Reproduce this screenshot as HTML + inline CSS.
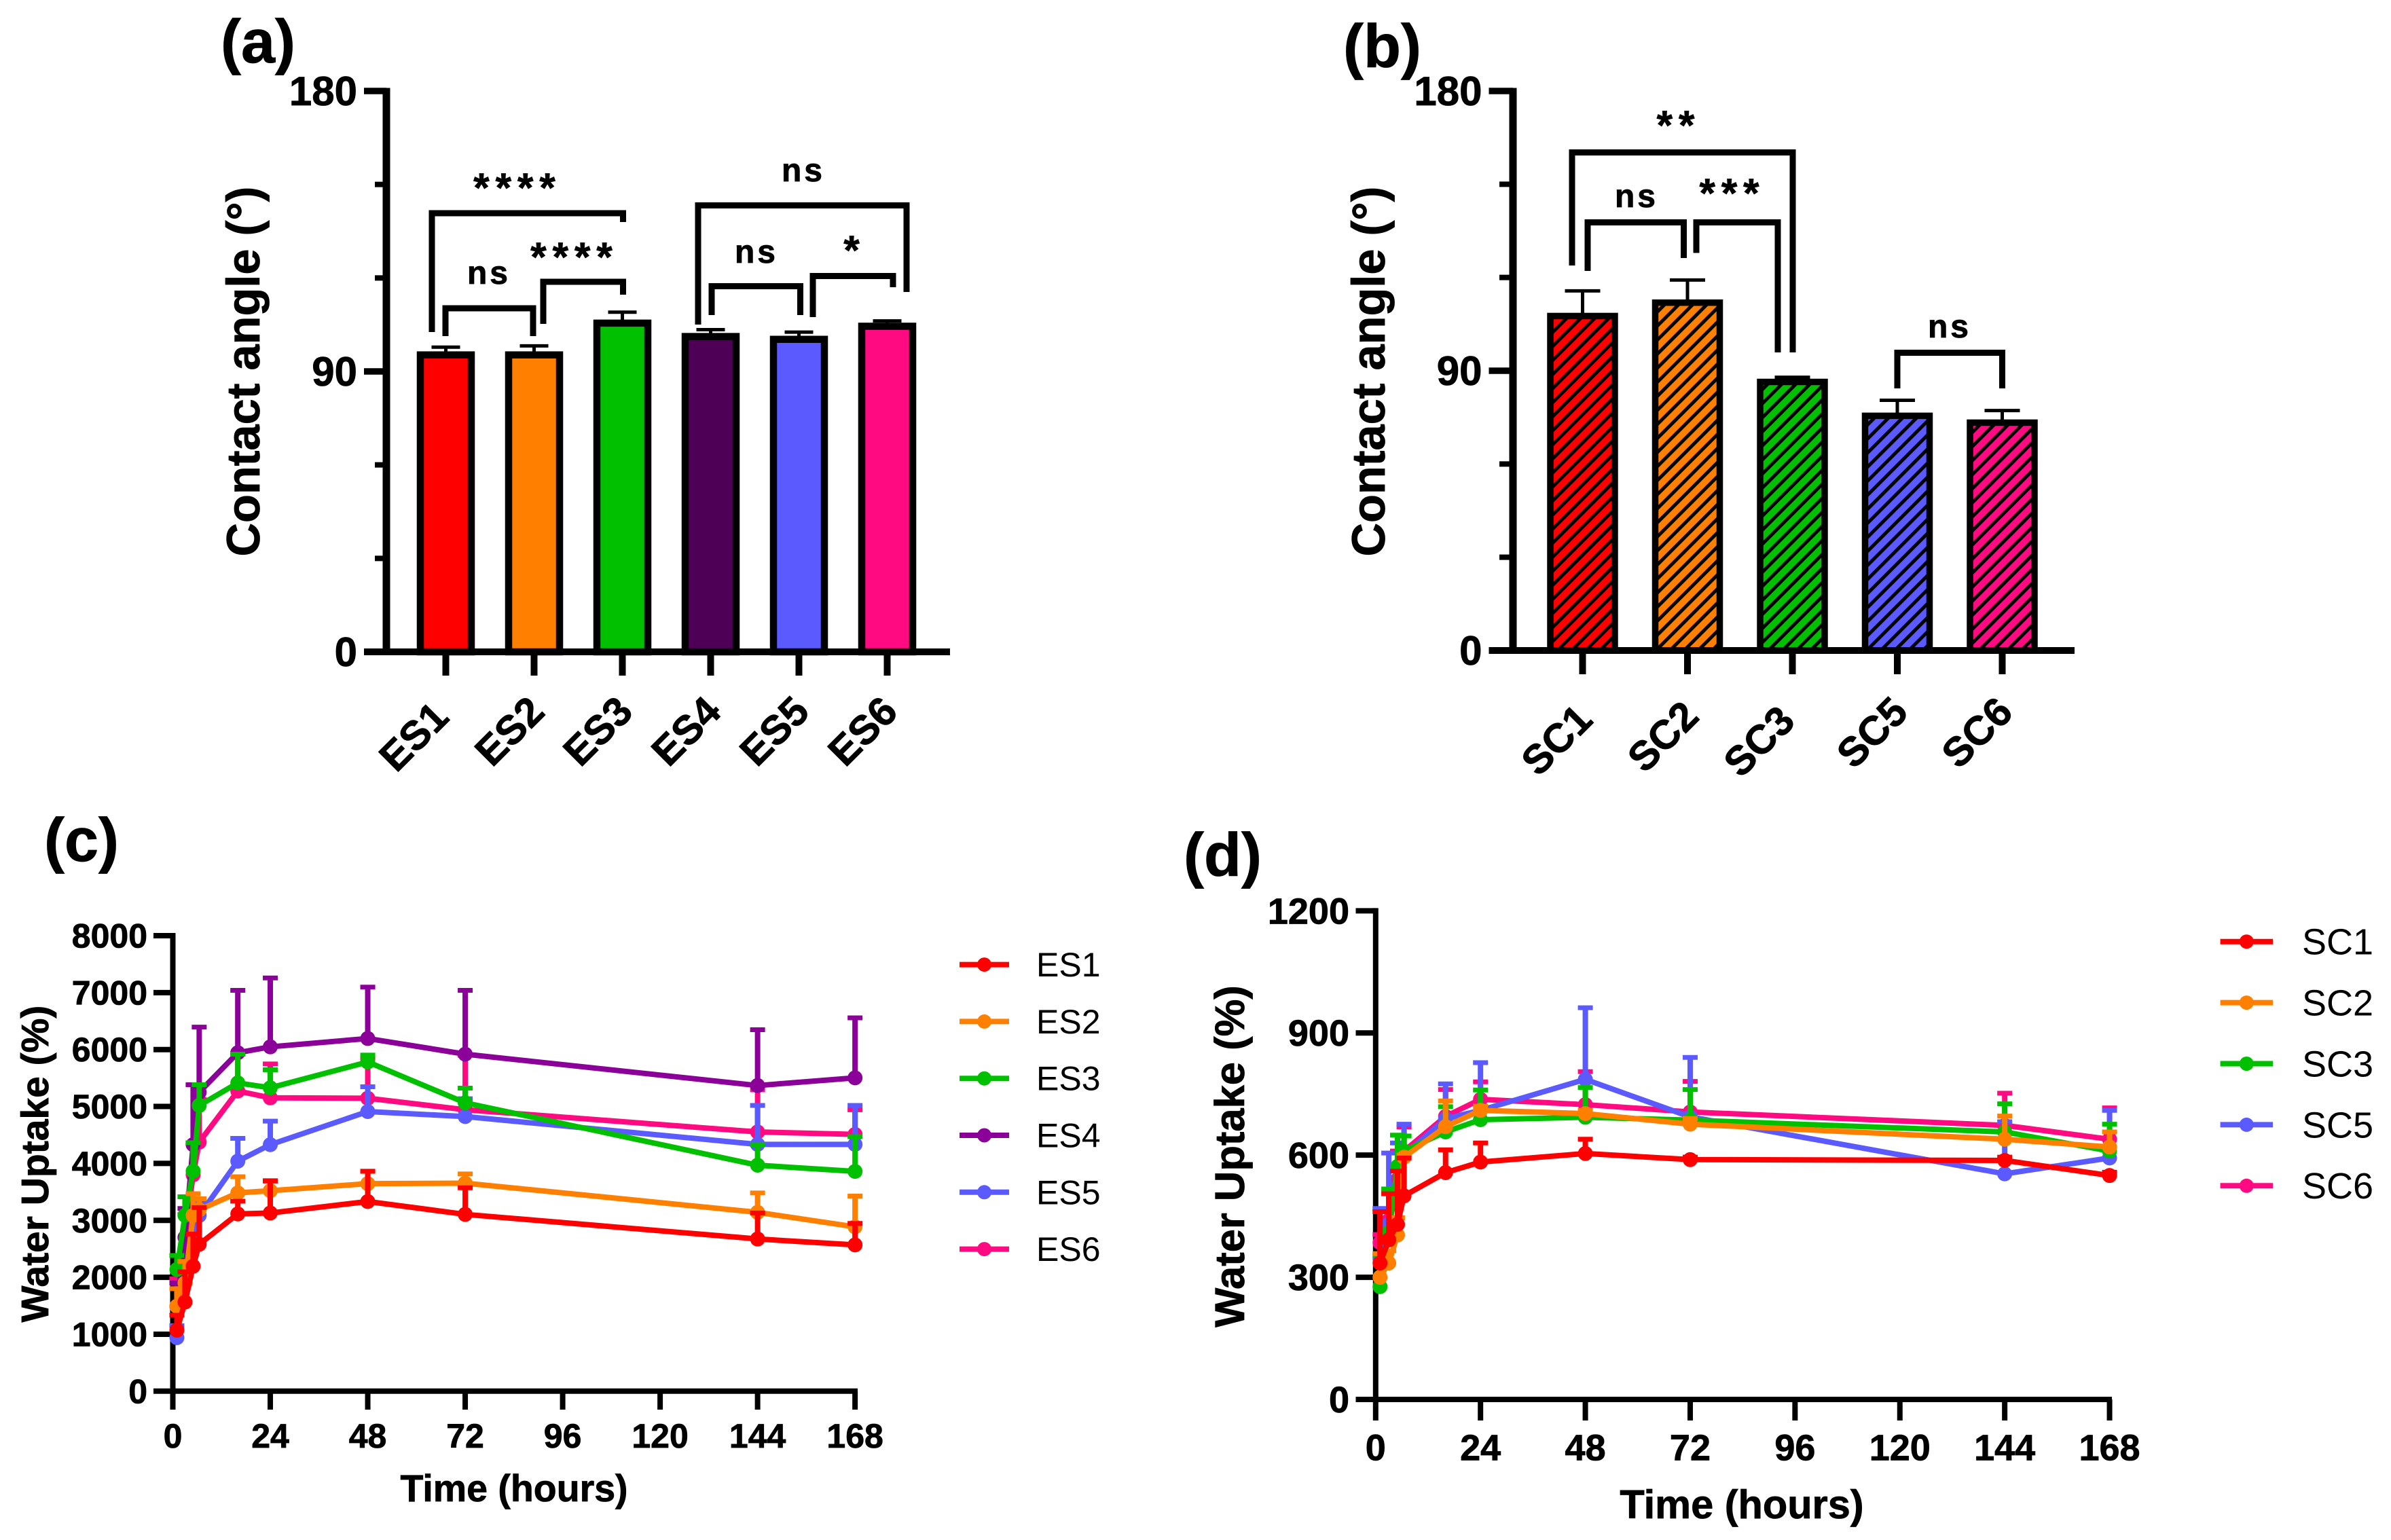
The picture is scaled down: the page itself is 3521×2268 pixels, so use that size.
<!DOCTYPE html>
<html lang="en">
<head>
<meta charset="utf-8">
<title>Contact angle and water uptake</title>
<style>
html,body{margin:0;padding:0;background:#fff;}
svg{display:block;}
text{font-family:"Liberation Sans",Arial,sans-serif;fill:#000;}
.b{font-weight:700;stroke:#000;stroke-width:0.8px;}
</style>
</head>
<body>
<svg id="fig" xmlns="http://www.w3.org/2000/svg" width="3521" height="2268" viewBox="0 0 3521 2268">
<defs>
<pattern id="hatch" patternUnits="userSpaceOnUse" width="14.63" height="14.63" patternTransform="rotate(-45 2280 460)">
<rect x="0" y="0" width="14.63" height="5" fill="#000"></rect>
</pattern>
</defs>
<rect x="0" y="0" width="3521" height="2268" fill="#fff"></rect>

<text class="b" x="325" y="92" font-size="90">(a)</text>
<text class="b" x="1978" y="99" font-size="90">(b)</text>
<text class="b" x="65" y="1268" font-size="90">(c)</text>
<text class="b" x="1743" y="1290" font-size="90">(d)</text>

<text class="b" transform="translate(382 547) rotate(-90)" text-anchor="middle" font-size="68.500">Contact angle (°)</text>
<text class="b" transform="translate(382 547) translate(1657 0) rotate(-90)" text-anchor="middle" font-size="68.500">Contact angle (°)</text>
<text class="b" transform="translate(71 1714) rotate(-90)" text-anchor="middle" font-size="57">Water Uptake (%)</text>
<text class="b" x="757" y="2211" text-anchor="middle" font-size="55.500">Time (hours)</text>
<text class="b" transform="translate(1832 1703) rotate(-90)" text-anchor="middle" font-size="61.500">Water Uptake (%)</text>
<text class="b" x="2565" y="2236" text-anchor="middle" font-size="59.500">Time (hours)</text>

<g id="sig" fill="none" stroke="#000" stroke-width="9">
<path d="M636 489V314H917.5V327"></path>
<path d="M656 495V454H785V495"></path>
<path d="M800 477V415H917.5V434"></path>
<path d="M1028 478V302.500H1335V430"></path>
<path d="M1048 464V421.500H1178.500V464"></path>
<path d="M1197 467V406.500H1315V423"></path>
<path d="M2315 391V224.500H2640V519"></path>
<path d="M2338 399V327.500H2479.500V380"></path>
<path d="M2498 372.500V327.500H2618V519"></path>
<path d="M2794 572V519.500H2948.500V572"></path>
</g>
<g text-anchor="middle">
<text class="b" x="762" y="297" font-size="60" letter-spacing="9">****</text>
<text class="b" x="846" y="399" font-size="60" letter-spacing="9">****</text>
<text class="b" x="720" y="418" font-size="48" letter-spacing="4">ns</text>
<text class="b" x="1183" y="267" font-size="48" letter-spacing="4">ns</text>
<text class="b" x="1114" y="387" font-size="48" letter-spacing="4">ns</text>
<text class="b" x="1254" y="389" font-size="60">*</text>
<text class="b" x="2472" y="205" font-size="60" letter-spacing="9">**</text>
<text class="b" x="2410" y="305" font-size="48" letter-spacing="4">ns</text>
<text class="b" x="2551" y="305" font-size="60" letter-spacing="9">***</text>
<text class="b" x="2871" y="497" font-size="48" letter-spacing="4">ns</text>
</g>
</svg>
<script>
// Panel (a) data
const esBarCategories = ['ES1','ES2','ES3','ES4','ES5','ES6'];
const esBarMeans = [95.3,95.3,105.5,101.2,100.3,104.5];
const esBarUpper = [97.8,98.2,109,103.4,102.6,106.2];
const esBarColors = ['#ff0000','#ff8000','#00c000','#4d0055','#5a5aff','#ff0a80'];
// Panel (b) data
const scBarCategories = ['SC1','SC2','SC3','SC5','SC6'];
const scBarMeans = [107.6,111.9,86.4,75.5,73.3];
const scBarUpper = [115.7,119.2,87.9,80.5,77.2];
const scBarColors = ['#ff0000','#ff8000','#00c000','#5a5aff','#ff0a80'];
const angleMajorTicks = [0,90,180];
const angleMinorTicks = [30,60,120,150];
// Shared time axis
const timePoints = [1,3,5,6.5,16,24,48,72,144,168];
const timeTicks = [0,24,48,72,96,120,144,168];
// Panel (c) data
const es1Values = [1072,1565,2194,2580,3113,3129,3331,3105,2673,2569];
const es1Upper = [1335,2096,2760,3225,3337,3690,3863,3573,3129,2947];
const es2Values = [1492,1900,3088,3185,3483,3520,3645,3653,3141,2886];
const es2Upper = [1800,2278,3468,3380,3766,3700,3860,3815,3482,3427];
const es3Values = [2137,3088,3865,5018,5414,5328,5782,5065,3969,3860];
const es3Upper = [2383,3415,4362,5382,5919,5645,5903,5323,4327,4470];
const es4Values = [1490,2700,4330,5250,5944,6048,6194,5919,5368,5503];
const es4Upper = [1900,3208,5382,6394,7040,7258,7097,7040,6348,6557];
const es5Values = [940,1900,2700,3086,4040,4330,4911,4823,4334,4334];
const es5Upper = [1150,2200,3000,3318,4440,4742,5347,5137,5018,5018];
const es6Values = [1490,2700,3800,4374,5272,5152,5145,4943,4553,4510];
const es6Upper = [1975,3100,4350,5125,5930,5748,5850,5900,5293,4942];
const esUptakeTicks = [0,1000,2000,3000,4000,5000,6000,7000,8000];
// Panel (d) data
const sc1Values = [335,392,430,500,557,583,604,589,587,550];
const sc1Upper = [461,505,561,593,613,630,639,595,595,558];
const sc2Values = [300,335,404,595,670,710,702,676,639,620];
const sc2Upper = [358,365,446,600,733,720,710,690,696,657];
const sc3Values = [277,410,572,610,657,687,693,686,657,610];
const sc3Upper = [354,517,649,647,719,760,766,761,726,676];
const sc5Values = [345,430,520,600,689,710,786,694,554,593];
const sc5Upper = [469,605,630,676,775,827,962,840,682,710];
const sc6Values = [385,440,540,610,695,737,724,706,673,639];
const sc6Upper = [405,510,610,669,761,780,805,781,752,716];
const scUptakeTicks = [0,300,600,900,1200];

const svg = document.getElementById('fig');
const NS = 'http://www.w3.org/2000/svg';

function el(parent, tag, attrs, name) {
  const e = document.createElementNS(NS, tag);
  for (const k in attrs) e.setAttribute(k, attrs[k]);
  
  
  parent.appendChild(e);
  return e;
}
function txt(parent, attrs, s, name) {
  const e = el(parent, 'text', attrs, name);
  e.textContent = s;
  return e;
}
function hLine(g, x1, x2, y, w, c, name) {
  return el(g, 'line', {x1: x1, x2: x2, y1: y, y2: y, stroke: c, 'stroke-width': w}, name);
}
function vLine(g, x, y1, y2, w, c, name) {
  return el(g, 'line', {x1: x, x2: x, y1: y1, y2: y2, stroke: c, 'stroke-width': w}, name);
}

function barPanel(p) {
  const g = el(svg, 'g', {}, p.id);
  const yScale = v => p.zero - v * (p.zero - p.top) / 180;
  const xScale = i => p.x0 + i * p.step;
  p.cats.forEach((c, i) => {
    const lower = c.toLowerCase();
    const cx = xScale(i);
    vLine(g, cx, yScale(p.means[i]), yScale(p.upper[i]), 5, '#000', 'error-stem-' + lower);
    hLine(g, cx - p.cap / 2, cx + p.cap / 2, yScale(p.upper[i]), 5, '#000', 'error-cap-' + lower);
    const attrs = {x: cx - p.barW / 2, y: yScale(p.means[i]), width: p.barW, height: p.zero - yScale(p.means[i])};
    if (p.hatched) {
      el(g, 'rect', Object.assign({fill: p.colors[i]}, attrs), 'bar-fill-' + lower);
      el(g, 'rect', Object.assign({fill: 'url(#hatch)', stroke: '#000', 'stroke-width': p.sw}, attrs), 'bar-' + lower);
    } else {
      el(g, 'rect', Object.assign({fill: p.colors[i], stroke: '#000', 'stroke-width': p.sw}, attrs), 'bar-' + lower);
    }
    vLine(g, cx, p.zero, p.tickBottom, 10, '#000', 'x-tick-' + lower);
    const shift = p.labelShift(i);
    txt(g, {class: 'b', transform: 'translate(' + (cx + shift[0]) + ' ' + (shift[1]) + ') rotate(-45)', 'text-anchor': 'middle', 'font-size': 60, dy: '0.36em'}, c, 'x-label-' + lower);
  });
  vLine(g, p.axisX, p.top - 4.5, p.zero + 4.5, 11, '#000', 'y-axis-line');
  hLine(g, p.tickL, p.xEnd, p.zero, 10, '#000', 'x-axis-line');
  angleMajorTicks.forEach(v => {
    if (v !== 0) hLine(g, p.tickL, p.axisX, yScale(v), 9.5, '#000', 'y-tick-' + v);
    txt(g, {class: 'b', x: p.tickL - 10, y: yScale(v) + 21, 'text-anchor': 'end', 'font-size': 60}, String(v), 'y-label-' + v);
  });
  angleMinorTicks.forEach(v => hLine(g, p.tickM, p.axisX, yScale(v), 8, '#000', 'y-minor-tick-' + v));
}

barPanel({
  id: 'panel-a-bar-chart', cats: esBarCategories, means: esBarMeans, upper: esBarUpper, colors: esBarColors,
  zero: 960, top: 134, x0: 656.5, step: 130, barW: 75, sw: 10.5, cap: 42, hatched: false,
  axisX: 569, tickL: 536, tickM: 552, xEnd: 1399, tickBottom: 995,
  labelShift: i => i === 0 ? [-48, 1084] : [-37, 1076]
});
barPanel({
  id: 'panel-b-bar-chart', cats: scBarCategories, means: scBarMeans, upper: scBarUpper, colors: scBarColors,
  zero: 958, top: 134, x0: 2330.5, step: 154.5, barW: 95, sw: 9.5, cap: 52, hatched: true,
  axisX: 2228, tickL: 2192.5, tickM: 2208, xEnd: 3055, tickBottom: 993,
  labelShift: i => i === 0 ? [-39, 1089] : i === 1 ? [-37, 1084] : i === 2 ? [-50, 1091] : [-38, 1078]
});

function linePanel(p) {
  const g = el(svg, 'g', {}, p.id);
  const xScale = t => p.axisX + t * p.pxPerHour;
  const yScale = v => p.zero - v * p.pxPerUnit;
  vLine(g, p.axisX, yScale(p.yTicks[p.yTicks.length - 1]) - 4, p.zero + 4, 8, '#000', 'y-axis-line');
  hLine(g, p.tickL, p.xEnd, p.zero, 8, '#000', 'x-axis-line');
  p.yTicks.forEach(v => {
    if (v !== 0) hLine(g, p.tickL, p.axisX, yScale(v), 8, '#000', 'y-tick-' + v);
    txt(g, {class: 'b', x: p.labelR, y: yScale(v) + p.font * 0.35, 'text-anchor': 'end', 'font-size': p.font}, String(v), 'y-label-' + v);
  });
  timeTicks.forEach(t => {
    vLine(g, xScale(t), p.zero, p.tickBottom, 8, '#000', 'x-tick-' + t);
    txt(g, {class: 'b', x: xScale(t), y: p.xLabelY, 'text-anchor': 'middle', 'font-size': p.font}, String(t), 'x-label-' + t);
  });
  p.series.slice().reverse().forEach(s => {
    const sid = s.name.toLowerCase();
    const sg = el(g, 'g', {}, 'series-' + sid);
    timePoints.forEach((t, i) => {
      const x = xScale(t);
      vLine(sg, x, yScale(s.values[i]), yScale(s.upper[i]), 8, s.color, 'error-stem-' + sid);
      hLine(sg, x - 11, x + 11, yScale(s.upper[i]), 7, s.color, 'error-cap-' + sid);
    });
    const pts = timePoints.map((t, i) => xScale(t) + ',' + yScale(s.values[i])).join(' ');
    el(sg, 'polyline', {points: pts, fill: 'none', stroke: s.color, 'stroke-width': 8, 'stroke-linejoin': 'round'}, 'line-' + sid);
    timePoints.forEach((t, i) => {
      el(sg, 'circle', {cx: xScale(t), cy: yScale(s.values[i]), r: 11, fill: s.color}, 'point-' + sid);
    });
  });
  p.series.forEach((s, i) => {
    const sid = s.name.toLowerCase();
    const lg = el(g, 'g', {}, 'legend-entry-' + sid);
    const y = p.legY + i * p.legStep;
    hLine(lg, p.legX1, p.legX2, y, 8, s.color, 'legend-line-' + sid);
    el(lg, 'circle', {cx: (p.legX1 + p.legX2) / 2, cy: y, r: 10.5, fill: s.color}, 'legend-marker-' + sid);
    txt(lg, {x: p.legT, y: y + p.legFont * 0.35, 'font-size': p.legFont}, s.name, 'legend-label-' + sid);
  });
}

linePanel({
  id: 'panel-c-line-chart', axisX: 254.5, pxPerHour: 5.98, zero: 2048.8, pxPerUnit: 0.08385,
  yTicks: esUptakeTicks, tickL: 226, xEnd: 1263, tickBottom: 2076, labelR: 217, xLabelY: 2132, font: 50,
  legX1: 1413, legX2: 1486, legT: 1526, legY: 1420.6, legStep: 83.8, legFont: 50,
  series: [
    {name: 'ES1', values: es1Values, upper: es1Upper, color: '#ff0000'},
    {name: 'ES2', values: es2Values, upper: es2Upper, color: '#ff8000'},
    {name: 'ES3', values: es3Values, upper: es3Upper, color: '#00c000'},
    {name: 'ES4', values: es4Values, upper: es4Upper, color: '#8b0099'},
    {name: 'ES5', values: es5Values, upper: es5Upper, color: '#5a5aff'},
    {name: 'ES6', values: es6Values, upper: es6Upper, color: '#ff0a80'}
  ]
});
linePanel({
  id: 'panel-d-line-chart', axisX: 2025.8, pxPerHour: 6.433, zero: 2061, pxPerUnit: 0.5997,
  yTicks: scUptakeTicks, tickL: 1996.5, xEnd: 3110, tickBottom: 2092, labelR: 1987, xLabelY: 2150.6, font: 54,
  legX1: 3269.6, legX2: 3347, legT: 3390, legY: 1386.7, legStep: 89.9, legFont: 54,
  series: [
    {name: 'SC1', values: sc1Values, upper: sc1Upper, color: '#ff0000'},
    {name: 'SC2', values: sc2Values, upper: sc2Upper, color: '#ff8000'},
    {name: 'SC3', values: sc3Values, upper: sc3Upper, color: '#00c000'},
    {name: 'SC5', values: sc5Values, upper: sc5Upper, color: '#5a5aff'},
    {name: 'SC6', values: sc6Values, upper: sc6Upper, color: '#ff0a80'}
  ]
});
</script>
</body>
</html>
